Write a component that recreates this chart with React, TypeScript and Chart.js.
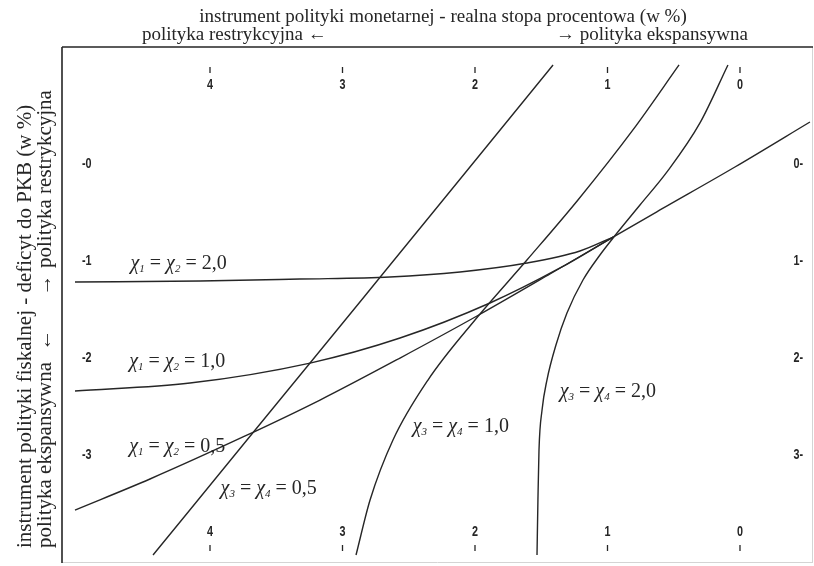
import React, { useEffect, useRef } from "react";
import { Chart, registerables } from "chart.js";

Chart.register(...registerables);

// Tick values on the two axes (real interest rate, deficit to GDP)
const rateTicks = [4, 3, 2, 1, 0];
const deficitTicks = [0, 1, 2, 3];

// Fiscal reaction curves, χ1 = χ2
const fiscal20X = [5.019, 4.075, 3.321, 2.642, 2.113, 1.608, 1.208, 0.958];
const fiscal20Y = [1.216, 1.206, 1.186, 1.165, 1.113, 1.021, 0.897, 0.753];

const fiscal10X = [5.019, 4.151, 3.245, 2.566, 1.887, 1.358, 0.958];
const fiscal10Y = [2.34, 2.258, 2.052, 1.794, 1.433, 1.072, 0.753];

const fiscal05X = [5.019, 4.453, 3.751, 3.17, 2.566, 1.985, 1.434, 0.958, 0.604, 0.038, -0.528];
const fiscal05Y = [3.567, 3.247, 2.814, 2.433, 2.0, 1.567, 1.134, 0.753, 0.474, 0.031, -0.433];

// Monetary reaction curves, χ3 = χ4
const monetary05X = [4.43, 3.721, 3.245, 2.672, 2.075, 1.411];
const monetary05Y = [4.031, 2.845, 2.052, 1.093, 0.093, -1.021];

const monetary10X = [2.898, 2.792, 2.619, 2.355, 2.0, 1.608, 1.223, 0.808, 0.46];
const monetary10Y = [4.031, 3.464, 2.845, 2.227, 1.608, 0.99, 0.371, -0.351, -1.021];

const monetary20X = [1.532, 1.525, 1.517, 1.494, 1.457, 1.389, 1.306, 1.185, 1.057, 0.958, 0.755, 0.551, 0.302, 0.091];
const monetary20Y = [4.031, 3.464, 2.948, 2.536, 2.227, 1.866, 1.536, 1.196, 0.938, 0.763, 0.423, 0.082, -0.423, -1.021];

// Curve captions: subscripts, parameter value and anchor in data units
const captions = [
  { a: "1", b: "2", value: "2,0", x: 4.6, y: 1.01 },
  { a: "1", b: "2", value: "1,0", x: 4.61, y: 2.02 },
  { a: "1", b: "2", value: "0,5", x: 4.61, y: 2.9 },
  { a: "3", b: "4", value: "0,5", x: 3.92, y: 3.33 },
  { a: "3", b: "4", value: "1,0", x: 2.47, y: 2.69 },
  { a: "3", b: "4", value: "2,0", x: 1.36, y: 2.33 },
];

const SERIF = "'Liberation Serif', 'Times New Roman', serif";
const SANS = "'Liberation Sans', Arial, sans-serif";
const INK = "#262626";

const toPoints = (xs: number[], ys: number[]) => xs.map((x, i) => ({ x, y: ys[i] }));

function drawCaption(ctx: CanvasRenderingContext2D, x: number, y: number, a: string, b: string, value: string) {
  const big = `italic 20px ${SERIF}`;
  const sub = `italic 11px ${SERIF}`;
  const roman = `20px ${SERIF}`;
  let cx = x;
  const put = (t: string, f: string, dy = 0) => {
    ctx.font = f;
    ctx.fillText(t, cx, y + dy);
    cx += ctx.measureText(t).width;
  };
  put("χ", big);
  put(a, sub, 3);
  put(" = ", roman);
  put("χ", big);
  put(b, sub, 3);
  put(" = ", roman);
  put(value, roman);
}

function drawNarrow(ctx: CanvasRenderingContext2D, text: string, x: number, y: number, align: CanvasTextAlign) {
  ctx.save();
  ctx.translate(x, y);
  ctx.scale(0.72, 1);
  ctx.textAlign = align;
  ctx.fillText(text, 0, 0);
  ctx.restore();
}

const decorations = {
  id: "policyDecorations",
  beforeDatasetsDraw(chart: any) {
    const { ctx, chartArea } = chart;
    const { left, right, top, bottom } = chartArea;
    ctx.save();
    // faint right and bottom edges of the frame
    ctx.strokeStyle = "#d4d4d4";
    ctx.lineWidth = 1;
    ctx.beginPath();
    ctx.moveTo(right - 0.5, top);
    ctx.lineTo(right - 0.5, bottom);
    ctx.moveTo(left, bottom - 0.5);
    ctx.lineTo(right, bottom - 0.5);
    ctx.stroke();
    // dark top and left edges
    ctx.strokeStyle = INK;
    ctx.lineWidth = 1.6;
    ctx.beginPath();
    ctx.moveTo(left, top);
    ctx.lineTo(right, top);
    ctx.moveTo(left, top);
    ctx.lineTo(left, bottom);
    ctx.stroke();
    ctx.restore();
  },
  afterDraw(chart: any) {
    const { ctx, chartArea, scales } = chart;
    const { left, right, top, bottom } = chartArea;
    const xs = scales.x;
    const ys = scales.y;
    ctx.save();
    ctx.fillStyle = INK;
    ctx.strokeStyle = INK;
    ctx.lineWidth = 1.3;

    // rate ticks along the top and the bottom
    ctx.font = `bold 15px ${SANS}`;
    ctx.textBaseline = "middle";
    rateTicks.forEach((v) => {
      const px = xs.getPixelForValue(v);
      ctx.beginPath();
      ctx.moveTo(px, top + 20);
      ctx.lineTo(px, top + 26);
      ctx.moveTo(px, bottom - 18);
      ctx.lineTo(px, bottom - 12);
      ctx.stroke();
      drawNarrow(ctx, String(v), px, top + 38, "center");
      drawNarrow(ctx, String(v), px, bottom - 31, "center");
    });

    // deficit ticks on both sides
    deficitTicks.forEach((v) => {
      const py = ys.getPixelForValue(v);
      drawNarrow(ctx, "-" + v, left + 20, py, "left");
      drawNarrow(ctx, v + "-", right - 10, py, "right");
    });

    // curve captions
    ctx.textBaseline = "alphabetic";
    ctx.textAlign = "left";
    captions.forEach((c) => {
      drawCaption(ctx, xs.getPixelForValue(c.x), ys.getPixelForValue(c.y) + 7, c.a, c.b, c.value);
    });

    // horizontal axis titles
    ctx.font = `19px ${SERIF}`;
    ctx.textBaseline = "middle";
    ctx.textAlign = "center";
    ctx.fillText("instrument polityki monetarnej - realna stopa procentowa (w %)", 443, 17);
    ctx.textAlign = "left";
    ctx.fillText("polityka restrykcyjna ←", 142, 35);
    ctx.textAlign = "right";
    ctx.fillText("→ polityka ekspansywna", 748, 35);

    // vertical axis titles, reading bottom to top
    ctx.save();
    ctx.translate(25, 0);
    ctx.rotate(-Math.PI / 2);
    ctx.font = `21px ${SERIF}`;
    ctx.textAlign = "left";
    ctx.fillText("instrument polityki fiskalnej - deficyt do PKB (w %)", -548, 0);
    ctx.restore();

    ctx.save();
    ctx.translate(45, 0);
    ctx.rotate(-Math.PI / 2);
    ctx.font = `21px ${SERIF}`;
    ctx.textAlign = "left";
    ctx.fillText("polityka ekspansywna", -548, 0);
    ctx.textAlign = "center";
    ctx.fillText("←", -340, 0);
    ctx.fillText("→", -285, 0);
    ctx.textAlign = "left";
    ctx.fillText("polityka restrykcyjna", -268, 0);
    ctx.restore();

    ctx.restore();
  },
};

const curve = (label: string, xs: number[], ys: number[]) => ({
  label,
  data: toPoints(xs, ys),
  borderColor: INK,
  borderWidth: 1.4,
  pointRadius: 0,
  cubicInterpolationMode: "monotone" as const,
  fill: false,
});

export default function App() {
  const canvasRef = useRef<HTMLCanvasElement | null>(null);

  useEffect(() => {
    const canvas = canvasRef.current;
    if (!canvas) return;
    const chart = new Chart(canvas, {
      type: "line",
      data: {
        datasets: [
          curve("χ1 = χ2 = 2,0", fiscal20X, fiscal20Y),
          curve("χ1 = χ2 = 1,0", fiscal10X, fiscal10Y),
          curve("χ1 = χ2 = 0,5", fiscal05X, fiscal05Y),
          curve("χ3 = χ4 = 0,5", monetary05X, monetary05Y),
          curve("χ3 = χ4 = 1,0", monetary10X, monetary10Y),
          curve("χ3 = χ4 = 2,0", monetary20X, monetary20Y),
        ],
      },
      options: {
        animation: false,
        responsive: false,
        layout: { padding: { left: 62, top: 47, right: 1, bottom: 3 } },
        scales: {
          x: { type: "linear", reverse: true, min: -0.551, max: 5.117, display: false },
          y: { type: "linear", reverse: true, min: -1.206, max: 4.113, display: false },
        },
        plugins: {
          legend: { display: false },
          tooltip: { enabled: false },
        },
      },
      plugins: [decorations],
    });
    return () => chart.destroy();
  }, []);

  return (
    <div style={{ position: "fixed", left: 0, top: 0, width: 814, height: 566, background: "#fff" }}>
      <canvas ref={canvasRef} width={814} height={566} style={{ display: "block" }} />
    </div>
  );
}
